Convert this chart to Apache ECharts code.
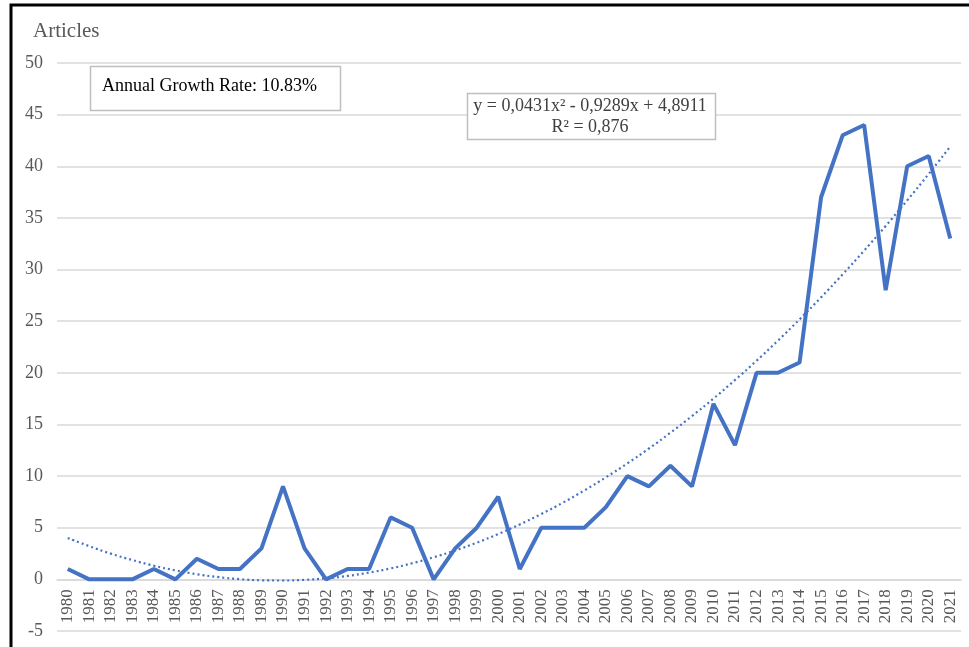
<!DOCTYPE html>
<html>
<head>
<meta charset="utf-8">
<script src="https://cdn.jsdelivr.net/npm/echarts@6/dist/echarts.min.js"></script>
<style>
  html, body { margin: 0; padding: 0; background: #fff; }
  #chart { width: 969px; height: 647px; }
</style>
</head>
<body>
<div id="chart"></div>
<script>
var years = ['1980', '1981', '1982', '1983', '1984', '1985', '1986', '1987', '1988', '1989',
    '1990', '1991', '1992', '1993', '1994', '1995', '1996', '1997', '1998', '1999',
    '2000', '2001', '2002', '2003', '2004', '2005', '2006', '2007', '2008', '2009',
    '2010', '2011', '2012', '2013', '2014', '2015', '2016', '2017', '2018', '2019',
    '2020', '2021'];

var articles = [1, 0, 0, 0, 1, 0, 2, 1, 1, 3,
    9, 3, 0, 1, 1, 6, 5, 0, 3, 5,
    8, 1, 5, 5, 5, 7, 10, 9, 11, 9,
    17, 13, 20, 20, 21, 37, 43, 44, 28, 40,
    41, 33];

// polynomial trendline values as drawn (order 2)
var trend = [4.01, 3.21, 2.49, 1.87, 1.32, 0.87, 0.50, 0.22, 0.02, -0.09,
    -0.11, -0.05, 0.10, 0.33, 0.66, 1.06, 1.56, 2.14, 2.80, 3.55,
    4.39, 5.32, 6.33, 7.42, 8.61, 9.88, 11.23, 12.67, 14.20, 15.81,
    17.51, 19.30, 21.17, 23.13, 25.18, 27.31, 29.53, 31.83, 34.22, 36.70,
    39.26, 41.91];

var yTicks = [-5, 0, 5, 10, 15, 20, 25, 30, 35, 40, 45, 50];

var serif = '"Liberation Serif", "DejaVu Serif", serif';
var blue = '#4472C4';

var gridTop = 63, gridBottom = 16;
var plotH = 647 - gridTop - gridBottom;
// distance from the bottom (-5) up to the zero line
var zeroOffset = plotH * (0 - yTicks[0]) / (yTicks[yTicks.length - 1] - yTicks[0]);

var chart = echarts.init(document.getElementById('chart'), null, { renderer: 'canvas' });

chart.setOption({
    animation: false,
    backgroundColor: '#fff',
    grid: { left: 57, right: 8, top: gridTop, bottom: gridBottom, containLabel: false, outerBoundsMode: 'none' },
    xAxis: {
        type: 'category',
        data: years,
        boundaryGap: true,
        offset: -zeroOffset,
        axisLine: { show: true, onZero: false, lineStyle: { color: '#d9d9d9', width: 1.5 } },
        axisTick: { show: false },
        axisLabel: {
            rotate: 90,
            interval: 0,
            margin: 10,
            color: '#595959',
            fontFamily: serif,
            fontSize: 17
        },
        splitLine: { show: false }
    },
    yAxis: {
        type: 'value',
        min: yTicks[0],
        max: yTicks[yTicks.length - 1],
        interval: 5,
        axisLine: { show: false },
        axisTick: { show: false },
        axisLabel: { color: '#595959', fontFamily: serif, fontSize: 18, margin: 14 },
        splitLine: { lineStyle: { color: '#d9d9d9', width: 1.5 } }
    },
    series: [
        {
            name: 'Articles',
            type: 'line',
            data: articles,
            symbol: 'none',
            lineStyle: { color: blue, width: 4 },
            z: 3
        },
        {
            name: 'Trend',
            type: 'line',
            data: trend,
            symbol: 'none',
            smooth: true,
            lineStyle: { color: blue, width: 2.2, type: [2, 3] },
            z: 2
        }
    ],
    graphic: [
        {
            type: 'rect',
            shape: { x: 11, y: 5, width: 1000, height: 1000 },
            style: { fill: 'none', stroke: '#000', lineWidth: 3 },
            silent: true
        },
        {
            type: 'text',
            left: 33,
            top: 21,
            style: { text: 'Articles', font: '21px ' + serif, fill: '#595959' }
        },
        {
            type: 'rect',
            shape: { x: 90.5, y: 66.5, width: 250, height: 44 },
            style: { fill: '#fff', stroke: '#bfbfbf', lineWidth: 1.5 },
            z: 10
        },
        {
            type: 'text',
            left: 102,
            top: 77,
            z: 11,
            style: { text: 'Annual Growth Rate: 10.83%', font: '18px ' + serif, fill: '#000' }
        },
        {
            type: 'rect',
            shape: { x: 467.5, y: 93.5, width: 248, height: 46 },
            style: { fill: '#fff', stroke: '#bfbfbf', lineWidth: 1.5 },
            z: 10
        },
        {
            type: 'text',
            x: 590,
            y: 96,
            z: 11,
            style: {
                text: 'y = 0,0431x² - 0,9289x + 4,8911\nR² = 0,876',
                font: '18px ' + serif,
                fill: '#404040',
                align: 'center',
                lineHeight: 21
            }
        }
    ]
});
</script>
</body>
</html>
